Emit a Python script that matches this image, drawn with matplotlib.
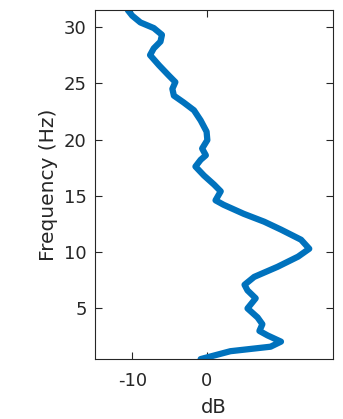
import matplotlib
matplotlib.use('Agg')
import matplotlib.pyplot as plt

# spectrum level (dB) against frequency (Hz)
freq = [0.5, 1.2, 1.6, 2.05, 2.6, 3.0, 3.6, 4.2, 5.0, 5.9, 6.6, 7.1, 7.8, 8.7,
        9.6, 10.3, 11.1, 12.0, 12.7, 13.4, 14.2, 14.6, 15.4, 16.0, 16.8, 17.6,
        18.2, 18.6, 19.2, 19.95, 20.7, 21.7, 22.6, 23.3, 23.9, 24.5, 25.1,
        25.7, 26.6, 27.5, 28.1, 28.7, 29.3, 29.9, 30.4, 31.0, 31.5]
level_db = [-0.8, 3.2, 8.6, 10.0, 8.2, 7.1, 7.5, 6.85, 5.5, 6.6, 5.5, 5.1, 6.4,
            9.55, 12.3, 13.8, 12.7, 10.0, 7.75, 5.0, 2.3, 1.2, 1.9, 1.0, -0.35,
            -1.5, -0.8, -0.1, -0.6, 0.1, 0.0, -0.8, -1.7, -3.1, -4.4, -4.6,
            -4.2, -5.1, -6.4, -7.6, -7.1, -6.2, -6.0, -7.1, -8.9, -10.0, -10.6]

xticks = [-10, 0]
yticks = [5, 10, 15, 20, 25, 30]

plt.rcParams['font.family'] = ['DejaVu Sans']
plt.rcParams['axes.unicode_minus'] = False

fig = plt.figure(figsize=[3.43, 4.19], dpi=100)
ax = fig.add_axes([0.277, 0.143, 0.694, 0.833])
ax.plot(level_db, freq, color='#0072BD', lw=4.5,
        solid_capstyle='round', solid_joinstyle='round')

ax.set_xlim([-15, 17])
ax.set_ylim([0.5, 31.5])
ax.set_xticks(xticks)
ax.set_yticks(yticks)
ax.tick_params(direction='in', length=5, width=0.8, color='#262626',
               labelsize=13, labelcolor='#262626', top=True, right=True)
ax.tick_params(axis='x', pad=9)
ax.tick_params(axis='y', pad=6)
for s in ax.spines.values():
    s.set_color('#262626')
    s.set_linewidth(0.8)

ax.set_xlabel('dB', fontsize=14, color='#262626', labelpad=6)
ax.set_ylabel('Frequency (Hz)', fontsize=14.5, color='#262626', labelpad=4)

fig.savefig('out.png', dpi=100)
